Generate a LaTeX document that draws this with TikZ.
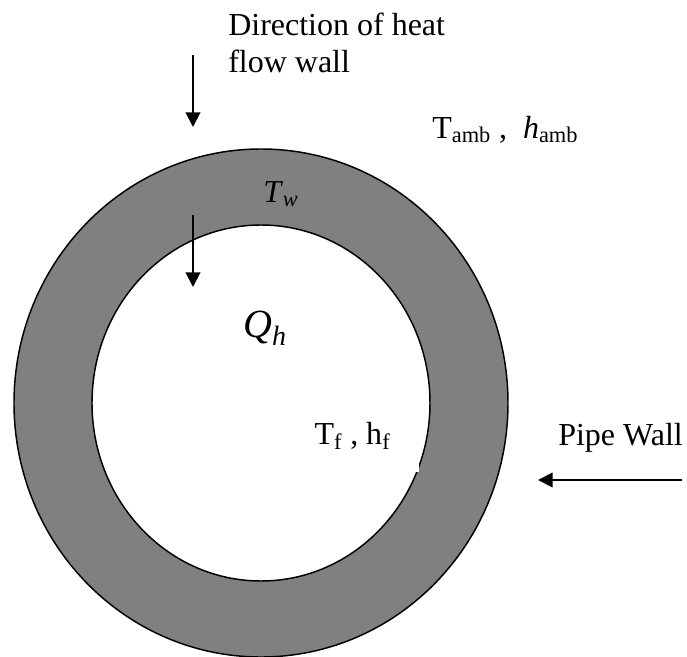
\documentclass[tikz,border=0pt]{standalone}
\usepackage{fontspec}
\setmainfont{Liberation Serif}
\usepackage{tikz}
\usetikzlibrary{arrows.meta,positioning}

\tikzset{
  wall/.style={
    fill = gray,
    even odd rule
  },
  rim/.style={
    draw,
    line width = 1.1pt
  },
  flow/.style={
    line width = 1.5pt,
    -{Triangle[length=11pt,width=11pt]}
  },
  txt/.style={
    font = \fontsize{24}{27.75}\selectfont,
    inner sep = 0pt
  },
  big/.style={
    font = \fontsize{30}{36}\selectfont,
    inner sep = 0pt
  }
}

\begin{document}
\begin{tikzpicture}[x=0.75pt,y=-0.75pt]
    \useasboundingbox (0,0) rectangle (687,657);
    \def\rxo{247}
    \def\ryo{254}
    \def\rxi{169}
    \def\ryi{178}
    \coordinate (c) at (261,403);
    % pipe wall ring
    \fill[wall] (c) ellipse ({\rxo} and {\ryo}) (c) ellipse ({\rxi} and {\ryi});
    \draw[rim] (c) ellipse ({\rxo} and {\ryo});
    \draw[rim] (c) ellipse ({\rxi} and {\ryi});

    \node[txt, anchor=base west, align=left] (dir) at (228,72)
        {Direction of heat\\flow wall};
    \node[txt, anchor=base west] (amb) at (432,138)
        {T\textsubscript{amb} ,\ \ \textit{h}\textsubscript{amb}};
    \node[txt, anchor=base west] (tw) at (263,202)
        {\textit{T}\textsubscript{\textit{w}}};
    \node[big, anchor=base west] (qh) at (243,337)
        {\textit{Q}\textsubscript{\textit{h}}};
    \node[txt, fill=white, minimum width=100pt, minimum height=54pt] (fluid) at (352.5,436)
        {T\textsubscript{f} , h\textsubscript{f}};
    \node[txt, anchor=base west] (pipe) at (558,445) {Pipe Wall};

    \coordinate (a1) at (193,55);
    \coordinate (b1) at (193,127);
    \coordinate (a2) at (193,215);
    \coordinate (b2) at (193,287);
    \coordinate (a3) at (682,480);
    \coordinate (b3) at (538,480);
    \draw[flow] (a1) -- (b1);
    \draw[flow] (a2) -- (b2);
    \draw[flow] (a3) -- (b3);
\end{tikzpicture}
\end{document}
